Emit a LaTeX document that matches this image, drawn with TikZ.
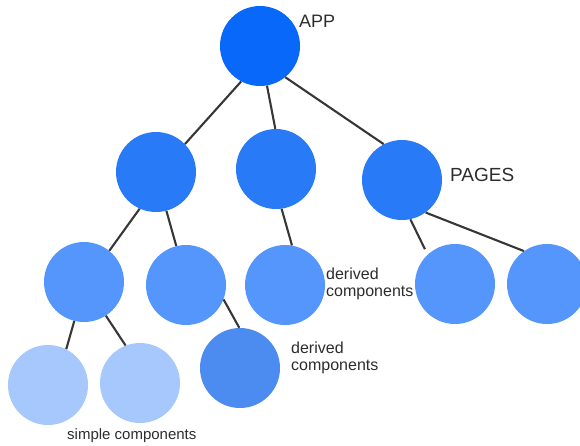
\documentclass[tikz,border=0pt]{standalone}
\usepackage{fontspec}
\setmainfont{Liberation Sans}
\begin{document}
\begin{tikzpicture}[x=1pt,y=-1pt,
  bub/.style={circle,minimum size=80pt,inner sep=0pt,draw=none},
  edge/.style={draw={rgb,255:red,55;green,55;blue,55},line width=2.1pt},
  lbl/.style={text={rgb,255:red,45;green,45;blue,45},font=\fontsize{16}{17}\selectfont,inner sep=0pt,align=left}]
\definecolor{cA}{RGB}{8,104,250}
\definecolor{cB}{RGB}{40,122,247}
\definecolor{cC}{RGB}{84,150,252}
\definecolor{cD}{RGB}{76,140,240}
\definecolor{cE}{RGB}{166,200,252}
\useasboundingbox (0,0) rectangle (580,445);
\fill[white] (0,0) rectangle (580,445);
\node[bub,fill=cA] (app) at (260,46) {};
\node[bub,fill=cB] (b1) at (156,172) {};
\node[bub,fill=cB] (b2) at (276,169) {};
\node[bub,fill=cB] (pages) at (402,180) {};
\node[bub,fill=cC] (c1) at (84,282) {};
\node[bub,fill=cC] (c2) at (186,285) {};
\node[bub,fill=cC] (c3) at (285,285) {};
\node[bub,fill=cC] (c4) at (455,284) {};
\node[bub,fill=cC] (c5) at (547,284) {};
\node[bub,fill=cE] (d1) at (48,385) {};
\node[bub,fill=cE] (d2) at (140,383) {};
\node[bub,fill=cD] (d3) at (240,368) {};
\draw[edge] (app.-118) -- (b1.44);
\draw[edge] (app.-80) -- (b2.91);
\draw[edge] (app.-51) -- (pages.117);
\draw[edge] (b1.-114) -- (c1.51);
\draw[edge] (b1.-75) -- (c2.104);
\draw[edge] (b2.-82) -- (c3.80);
\draw[edge,shorten >=6pt] (pages.-78) -- (c4.133);
\draw[edge] (pages.-54) -- (c5.125);
\draw[edge] (c1.-104) -- (d1.63);
\draw[edge] (c1.-57) -- (d2.111);
\draw[edge] (c2.-21) -- (d3.91);
\node[lbl,font=\fontsize{18}{19}\selectfont,anchor=west] (tapp) at (299,21) {APP};
\node[lbl,font=\fontsize{19}{20}\selectfont,anchor=west] (tpages) at (450,175) {PAGES};
\node[lbl,anchor=north west] (tder1) at (326,268) {derived\\components};
\node[lbl,anchor=north west] (tder2) at (291,342) {derived\\components};
\node[lbl,font=\fontsize{15}{16}\selectfont,anchor=west] (tsimple) at (67,436) {simple components};
\end{tikzpicture}
\end{document}
